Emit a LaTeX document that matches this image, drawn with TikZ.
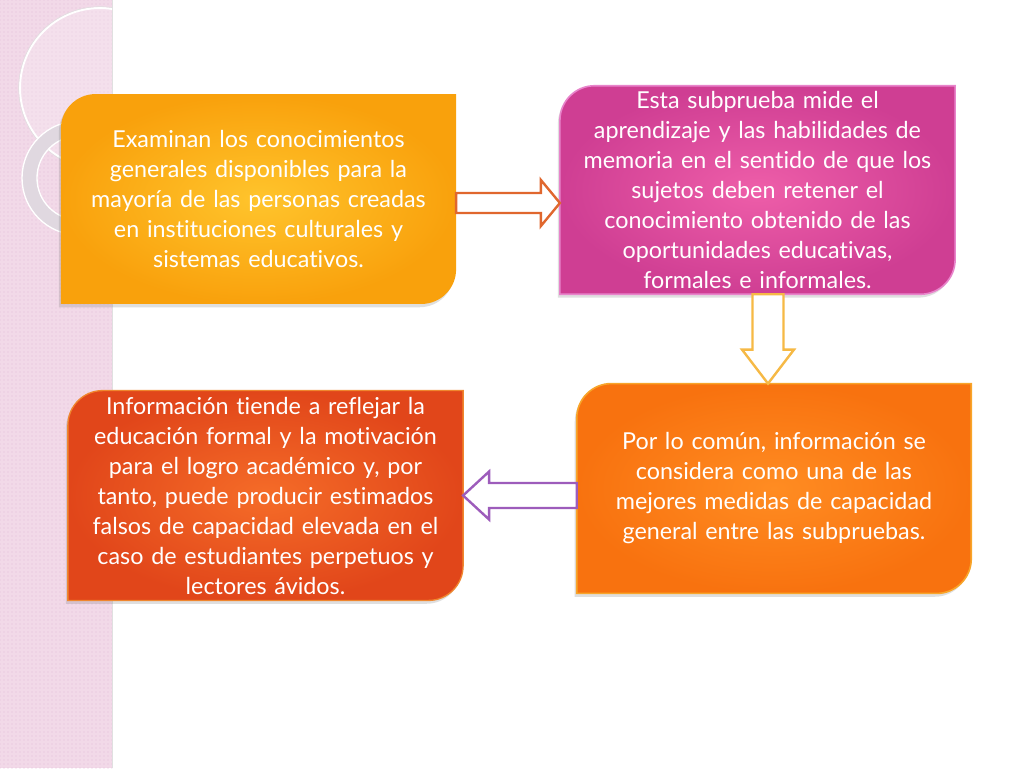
\documentclass[tikz,border=0pt]{standalone}
\usepackage{fontspec}
\setmainfont{Lato}[Ligatures={TeX,NoCommon}]
\usetikzlibrary{calc,backgrounds,shadows,patterns}

\definecolor{stripPink}{HTML}{F2D9E8}
\definecolor{dotPink}{HTML}{E5BBD7}
\definecolor{ringGrey}{HTML}{E0D8E0}
\definecolor{amberIn}{HTML}{FFC42C}
\definecolor{amberOut}{HTML}{F9A10C}
\definecolor{roseIn}{HTML}{EE5EA9}
\definecolor{roseOut}{HTML}{CF3E93}
\definecolor{roseLine}{HTML}{E884CB}
\definecolor{tangIn}{HTML}{FF8C22}
\definecolor{tangOut}{HTML}{F8720F}
\definecolor{tangLine}{HTML}{F8A52A}
\definecolor{flameIn}{HTML}{F56C28}
\definecolor{flameOut}{HTML}{E1461A}
\definecolor{flameLine}{HTML}{F0862E}
\definecolor{arrowRed}{HTML}{E0672E}
\definecolor{arrowGold}{HTML}{F6B945}
\definecolor{arrowPlum}{HTML}{9D5CBB}

\tikzset{
  panel/.style={inner sep=0pt, minimum width=296pt, minimum height=157pt,
    text width=292pt, align=center, text=white,
    font=\fontsize{17.5}{22.5}\selectfont},
  shadowed/.style={drop shadow={shadow xshift=-1.5pt, shadow yshift=-2.5pt, opacity=0.25}},
  blockarrow/.style={fill=white, draw=#1, line width=1.8pt, line join=miter}
}

% box with rounded top-left and bottom-right corners
\newcommand\panelshape[2]{%
  \path[shadowed, #2] (#1.south west) -- ($(#1.north west)+(0,-26pt)$)
    arc[start angle=180, end angle=90, radius=26pt] -- (#1.north east)
    -- ($(#1.south east)+(0,26pt)$)
    arc[start angle=0, end angle=-90, radius=26pt] -- cycle;}

\begin{document}
\begin{tikzpicture}[x=0.75pt, y=-0.75pt]
  \useasboundingbox (0,0) rectangle (1024,768);

  \begin{scope}[on background layer]
    \fill[white] (0,0) rectangle (1024,768);
    \fill[stripPink] (0,0) rectangle (112,768);
    \fill[pattern=dots, pattern color=dotPink] (0,0) rectangle (112,768);
    \draw[black!12, line width=1pt] (112.5,0) -- (112.5,768);
    \begin{scope}
      \clip (0,0) rectangle (112,768);
      \fill[white, opacity=0.2] (100,88) circle[radius=60pt];
      \draw[white, line width=1.5pt] (100,88) circle[radius=60pt];
      \draw[black!12, line width=0.4pt] (100,88) circle[radius=61pt];
    \end{scope}
    \fill[ringGrey, even odd rule] (79,178) circle[radius=42.75pt] (79,178) circle[radius=31.5pt];
    \draw[white, line width=1pt] (79,178) circle[radius=42.75pt] (79,178) circle[radius=31.5pt];
  \end{scope}

  \node[panel] (a) at (258.5,199) {Examinan los conocimientos\\ generales disponibles para la\\
    mayoría de las personas creadas\\ en instituciones culturales y\\ sistemas educativos.};
  \node[panel, minimum width=296pt, minimum height=156pt] (b) at (757.5,190) {Esta subprueba mide el\\
    aprendizaje y las habilidades de\\ memoria en el sentido de que los\\ sujetos deben retener el\\
    conocimiento obtenido de las\\ oportunidades educativas,\\ formales e informales.};
  \node[panel, minimum width=295.5pt] (c) at (774,488.5) {Por lo común, información se\\
    considera como una de las\\ mejores medidas de capacidad\\ general entre las subpruebas.};
  \node[panel] (d) at (265.5,495.5) {Información tiende a reflejar la\\
    educación formal y la motivación\\ para el logro académico y, por\\
    tanto, puede producir estimados\\ falsos de capacidad elevada en el\\
    caso de estudiantes perpetuos y\\ lectores ávidos.};

  \begin{scope}[on background layer]
    \panelshape{a}{inner color=amberIn, outer color=amberOut}
    \panelshape{b}{inner color=roseIn, outer color=roseOut, draw=roseLine, line width=1.2pt}
    \panelshape{c}{inner color=tangIn, outer color=tangOut, draw=tangLine, line width=1.2pt}
    \panelshape{d}{inner color=flameIn, outer color=flameOut, draw=flameLine, line width=1pt}
  \end{scope}

  \draw[blockarrow=arrowRed] let \p1=($(a.east)+(0,4)$), \p2=(b.west) in
    (\x1,\y1+7.5pt) -- (\x2-14.25pt,\y1+7.5pt) -- (\x2-14.25pt,\y1+17.25pt) -- (\x2,\y1)
    -- (\x2-14.25pt,\y1-17.25pt) -- (\x2-14.25pt,\y1-7.5pt) -- (\x1,\y1-7.5pt) -- cycle;
  \draw[blockarrow=arrowGold] let \p1=($(b.south)+(10.5,0)$), \p2=(c.north) in
    (\x1-11.6pt,\y1) -- (\x1-11.6pt,\y2+25.5pt) -- (\x1-19.5pt,\y2+25.5pt) -- (\x1,\y2)
    -- (\x1+19.5pt,\y2+25.5pt) -- (\x1+11.6pt,\y2+25.5pt) -- (\x1+11.6pt,\y1) -- cycle;
  \draw[blockarrow=arrowPlum] let \p1=($(c.west)+(0,7)$), \p2=(d.east) in
    (\x1,\y1+9.4pt) -- (\x2+19.5pt,\y1+9.4pt) -- (\x2+19.5pt,\y1+18pt) -- (\x2,\y1)
    -- (\x2+19.5pt,\y1-18pt) -- (\x2+19.5pt,\y1-9.4pt) -- (\x1,\y1-9.4pt) -- cycle;
\end{tikzpicture}
\end{document}
